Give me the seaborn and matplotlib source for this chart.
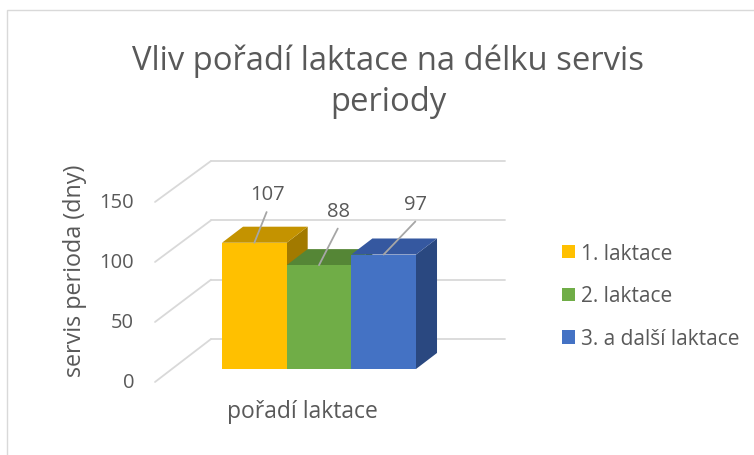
import matplotlib
matplotlib.use("Agg")
import matplotlib.pyplot as plt
from matplotlib.patches import Polygon, Patch, Rectangle
import seaborn as sns
import pandas as pd

# ---- data ----
categories = ["1. laktace", "2. laktace", "3. a další laktace"]
values = [107, 88, 97]
y_ticks = [0, 50, 100, 150]
title = "Vliv pořadí laktace na délku servis\nperiody"
y_label = "servis perioda (dny)"
x_label = "pořadí laktace"

# ---- style ----
front_colors = ["#FFC000", "#70AD47", "#4472C4"]
top_colors = ["#C49300", "#558636", "#3558A0"]
side_colors = ["#A27A00", "#466F2C", "#2A4880"]
text_color = "#595959"
grid_color = "#D9D9D9"

sns.set_theme(style="white")
plt.rcParams["font.family"] = ["Open Sans", "DejaVu Sans"]

W, H = 754, 456
fig = plt.figure(figsize=(W / 100, H / 100), dpi=100)
fig.patch.set_facecolor("white")

# chart border
fig.patches.append(Rectangle((7 / W, -0.01), 1.0, 1 - 11 / H + 0.01,
                             transform=fig.transFigure, fill=False,
                             edgecolor="#D9D9D9", linewidth=1.0))

ax = fig.add_axes([222 / W, (H - 370) / H, 194 / W, 177 / H])
df = pd.DataFrame({"cat": categories, "val": values})
sns.barplot(data=df, x="cat", y="val", hue="cat", palette=front_colors,
            width=1.0, ax=ax, legend=False, saturation=1, zorder=5,
            linewidth=0)
ax.set_xlim(-0.5, 2.5)
ax.set_ylim(0, 150)
ax.axis("off")

# 3D depth (data units)
ddx, ddy = 0.325, 13.6
# walls
back_x0, back_x1, back_off, back_scale = -0.67, 3.876, 25.4, 1.006
front_x, front_off, front_scale = -1.536, -11.0, 1.017
tick_x = -1.86

for v in y_ticks:
    yb = back_off + back_scale * v
    yf = front_off + front_scale * v
    ax.plot([back_x0, back_x1], [yb, yb], color=grid_color,
            lw=1.3, clip_on=False, zorder=1)
    ax.plot([front_x, back_x0], [yf, yb], color=grid_color,
            lw=1.3, clip_on=False, zorder=1)
    ax.text(tick_x, yf, str(v), ha="right", va="center",
            fontsize=14.5, color=text_color, clip_on=False)

# side and top faces
for i, v in enumerate(values):
    x1 = i + 0.5
    side = Polygon([(x1, 0), (x1, v), (x1 + ddx, v + ddy), (x1 + ddx, ddy)],
                   closed=True, facecolor=side_colors[i], edgecolor="none",
                   clip_on=False, zorder=3)
    ax.add_patch(side)
for i, v in enumerate(values):
    x0, x1 = i - 0.5, i + 0.5
    top = Polygon([(x0, v), (x1, v), (x1 + ddx, v + ddy), (x0 + ddx, v + ddy)],
                  closed=True, facecolor=top_colors[i], edgecolor="none",
                  clip_on=False, zorder=4)
    ax.add_patch(top)

# data labels with leader lines
label_dx = [0.2, 0.3, 0.5]
label_dy = [41, 46, 43]
for i, v in enumerate(values):
    lx, ly = i + label_dx[i], v + label_dy[i]
    ax.plot([i, lx - 0.01], [v, ly - 15], color="#A6A6A6", lw=1.3,
            clip_on=False, zorder=6)
    ax.text(lx, ly, str(v), ha="center", va="center", fontsize=14.5,
            color=text_color, clip_on=False, zorder=7)

# texts
fig.text(388 / W, 1 - 82 / H, title, ha="center", va="center", fontsize=23.6,
         color=text_color, linespacing=1.3)
fig.text(75 / W, 1 - 271 / H, y_label, ha="center", va="center", rotation=90,
         fontsize=16.8, color=text_color)
fig.text(302 / W, 1 - 412 / H, x_label, ha="center", va="center",
         fontsize=16.5, color=text_color)

handles = [Patch(facecolor=c, edgecolor="none") for c in front_colors]
fig.legend(handles, categories, loc="center left",
           bbox_to_anchor=(554 / W, 1 - 297 / H), frameon=False,
           fontsize=15, labelcolor=text_color, labelspacing=1.05,
           handlelength=0.6, handleheight=0.6, handletextpad=0.3,
           borderaxespad=0.0)

fig.savefig("out.png", dpi=100)
